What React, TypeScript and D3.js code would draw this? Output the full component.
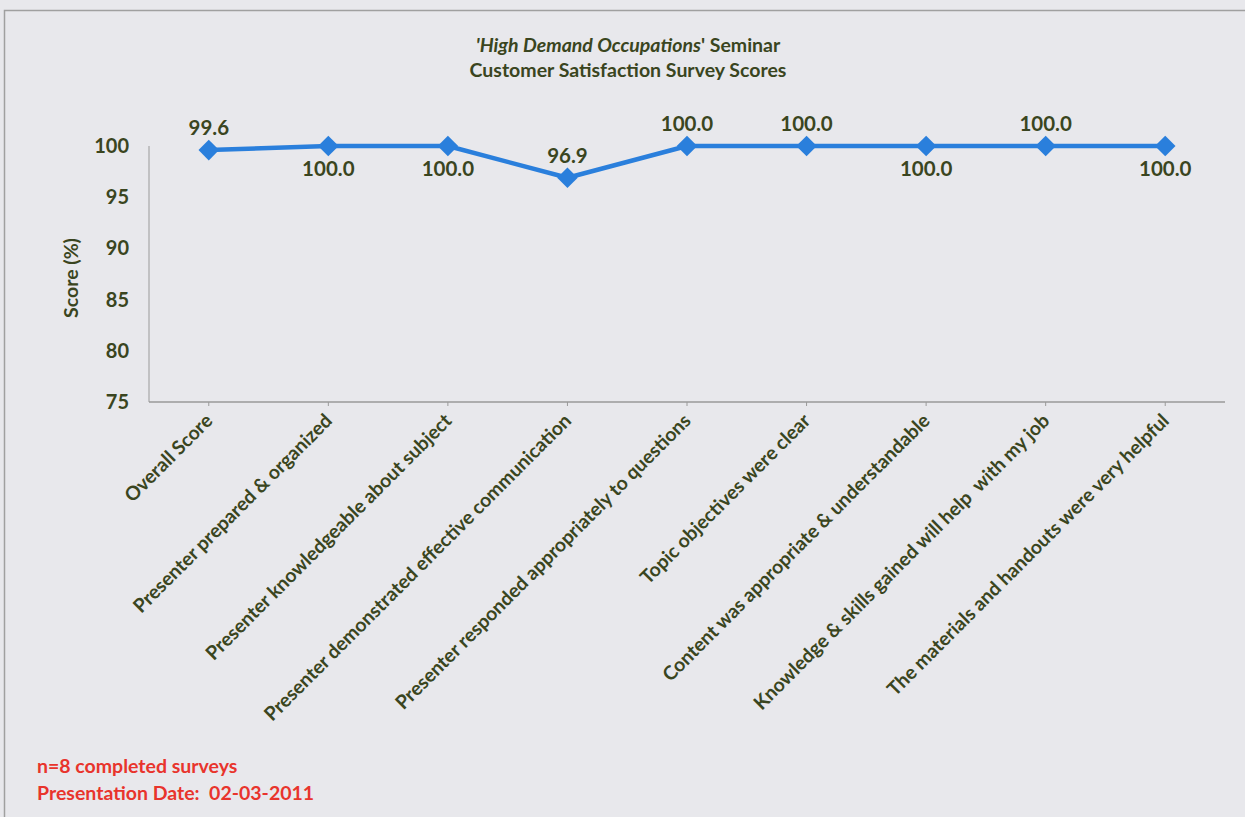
import React from "react";
import * as d3 from "d3";

const categories = [
  "Overall Score",
  "Presenter prepared & organized",
  "Presenter knowledgeable about subject",
  "Presenter demonstrated effective communication",
  "Presenter responded appropriately to questions",
  "Topic objectives were clear",
  "Content was appropriate & understandable",
  "Knowledge & skills gained will help  with my job",
  "The materials and handouts were very helpful",
];
const scores = [99.6, 100.0, 100.0, 96.9, 100.0, 100.0, 100.0, 100.0, 100.0];
const labelAbove = [true, false, false, true, true, true, false, true, false];
const yTicks = [75, 80, 85, 90, 95, 100];

const W = 1245;
const H = 817;
const left = 149;
const right = 1225;
const top = 146;
const bottom = 402;
const textColor = "#3a4520";
const lineColor = "#2a7fdc";
const font = "Lato, 'Open Sans', sans-serif";

export default function App() {
  const x = d3.scalePoint<string>().domain(categories).range([left, right]).padding(0.5);
  const y = d3.scaleLinear().domain([75, 100]).range([bottom, top]);
  const line = d3
    .line<number>()
    .x((_, i) => x(categories[i]) as number)
    .y((d) => y(d));
  const diamond = d3.symbol().type(d3.symbolDiamond2).size(270)();

  return (
    <svg
      width={W}
      height={H}
      style={{ position: "absolute", left: 0, top: 0, background: "#e8e8ec" }}
      fontFamily={font}
    >
      <rect x={0} y={0} width={W} height={H} fill="#e8e8ec" />
      <path d={`M4.5,${H} V10.5 H${W}`} fill="none" stroke="#a0a0a0" strokeWidth={1.5} />

      <text x={628} y={52} textAnchor="middle" fontSize={19.5} fontWeight="bold" fill={textColor}>
        <tspan fontStyle="italic">'High Demand Occupations</tspan>
        <tspan>' Seminar</tspan>
      </text>
      <text x={628} y={77} textAnchor="middle" fontSize={19.5} fontWeight="bold" fill={textColor}>
        Customer Satisfaction Survey Scores
      </text>

      {/* axes */}
      <line x1={left} x2={left} y1={top} y2={bottom} stroke="#9a9a9a" strokeWidth={1} />
      <line x1={left} x2={right} y1={bottom} y2={bottom} stroke="#9a9a9a" strokeWidth={1.5} />
      {categories.map((c) => (
        <line key={c} x1={x(c)} x2={x(c)} y1={bottom} y2={bottom + 4} stroke="#9a9a9a" strokeWidth={1} />
      ))}

      {yTicks.map((t) => (
        <text
          key={t}
          x={129}
          y={y(t)}
          dy="0.35em"
          textAnchor="end"
          fontSize={20}
          fontWeight="bold"
          fill={textColor}
        >
          {t}
        </text>
      ))}

      <text
        transform={`translate(78,${(top + bottom) / 2 + 4}) rotate(-90)`}
        textAnchor="middle"
        fontSize={19.5}
        fontWeight="bold"
        fill={textColor}
      >
        Score (%)
      </text>

      {categories.map((c) => (
        <text
          key={c}
          transform={`translate(${(x(c) as number) + 5},${bottom + 20}) rotate(-45)`}
          textAnchor="end"
          fontSize={19.3}
          fontWeight="bold"
          fill={textColor}
          style={{ whiteSpace: "pre" }}
        >
          {c}
        </text>
      ))}

      <path d={line(scores) ?? ""} fill="none" stroke={lineColor} strokeWidth={4.5} strokeLinejoin="round" />
      {scores.map((s, i) => (
        <path
          key={i}
          d={diamond ?? ""}
          transform={`translate(${x(categories[i])},${y(s)})`}
          fill={lineColor}
        />
      ))}
      {scores.map((s, i) => (
        <text
          key={i}
          x={x(categories[i])}
          y={labelAbove[i] ? y(s) - 15 : y(s) + 30}
          textAnchor="middle"
          fontSize={20.5}
          fontWeight="bold"
          fill={textColor}
        >
          {s.toFixed(1)}
        </text>
      ))}

      <text x={37} y={773} fontSize={19.5} fontWeight="bold" fill="#e8342c">
        n=8 completed surveys
      </text>
      <text x={37} y={800} fontSize={19.5} fontWeight="bold" fill="#e8342c" style={{ whiteSpace: "pre" }}>
        {"Presentation Date:  02-03-2011"}
      </text>
    </svg>
  );
}
